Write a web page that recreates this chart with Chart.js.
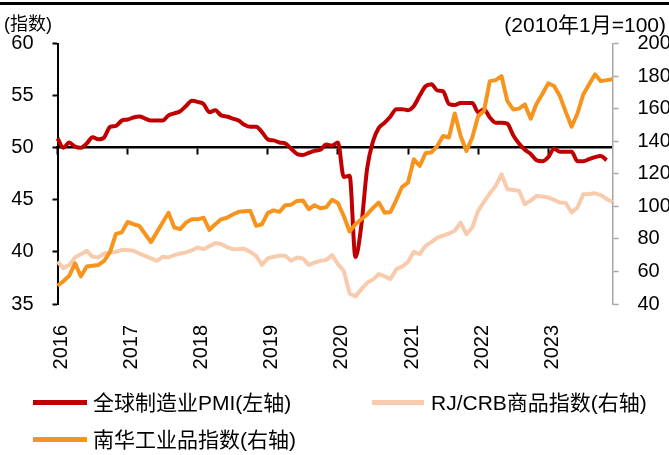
<!DOCTYPE html>
<html><head><meta charset="utf-8">
<script src="https://cdn.jsdelivr.net/npm/chart.js@4"></script>
<style>
html,body{margin:0;padding:0;background:#fff;}
#wrap{position:relative;width:669px;height:455px;overflow:hidden;font-family:"Liberation Sans","Noto Sans CJK SC",sans-serif;color:#000;}
#c{position:absolute;left:0;top:0;}
.t{position:absolute;white-space:nowrap;line-height:1;}
.ln{position:absolute;height:5px;}
</style></head><body>
<div id="wrap">
<canvas id="c" width="669" height="455"></canvas>
<div style="position:absolute;left:0;top:2px;width:669px;height:3px;background:#000"></div>
<div class="t" style="left:4px;top:15px;font-size:18px">(指数)</div>
<div class="t" style="right:3px;top:14px;font-size:21px">(2010年1月=100)</div>
<div class="ln" style="left:33px;top:400px;width:54px;background:#C00000"></div>
<div class="t" style="left:93px;top:392px;font-size:21px">全球制造业PMI(左轴)</div>
<div class="ln" style="left:372px;top:400px;width:52px;background:#F8CBAD"></div>
<div class="t" style="left:431px;top:392px;font-size:21px">RJ/CRB商品指数(右轴)</div>
<div class="ln" style="left:33px;top:437px;width:54px;background:#F7941D"></div>
<div class="t" style="left:93px;top:429px;font-size:21px">南华工业品指数(右轴)</div>
</div>
<script>
const yearLabels = ['2016','2017','2018','2019','2020','2021','2022','2023'];
const monthNums = ['01','02','03','04','05','06','07','08','09','10','11','12'];
const months = [];
yearLabels.forEach(y => monthNums.forEach(m => months.push(y + '-' + m)));

const pmi = [
  50.9, 50.0, 50.5, 50.1, 50.0, 50.4, 51.0, 50.8, 51.0, 52.0, 52.1, 52.6,
  52.7, 52.9, 53.0, 52.8, 52.6, 52.6, 52.6, 53.1, 53.3, 53.5, 54.0, 54.5,
  54.4, 54.2, 53.4, 53.6, 53.1, 53.0, 52.8, 52.6, 52.2, 52.0, 52.0, 51.5,
  50.8, 50.7, 50.5, 50.4, 49.9, 49.4, 49.3, 49.5, 49.7, 49.8, 50.3, 50.2,
  50.5, 47.2, 47.3, 39.5, 42.5, 48.0, 50.6, 51.9, 52.4, 53.0, 53.7, 53.7,
  53.6, 54.0, 55.0, 55.9, 56.1, 55.5, 55.4, 54.2, 54.1, 54.3, 54.3, 54.3,
  53.4, 53.7, 52.9, 52.4, 52.4, 52.3, 51.2, 50.4, 49.8, 49.4, 48.8, 48.7,
  49.1, 49.9, 49.6, 49.6, 49.6, 48.7, 48.7, 48.9, 49.1, 49.2, 48.8
];
const rjcrb = [
  66, 62, 64, 68.5, 70.5, 72.7, 69, 68.6, 71, 71.7, 72, 73.3,
  73.2, 72.7, 71, 69.6, 68, 66.5, 69, 68.6, 70, 71, 71.7, 73,
  74.7, 73.7, 75.5, 77.4, 76.8, 75, 73.7, 73.8, 74, 72, 69.6, 64,
  68, 69, 69.6, 69.6, 66.5, 68.6, 68, 64, 65.5, 66.5, 67, 70,
  64.5, 60.4, 46.5, 44.7, 49, 53, 55, 58.4, 57, 55.3, 61.4, 63,
  66, 72, 70.7, 75.7, 78, 80.8, 82, 83.3, 85, 90, 82.9, 87,
  97.2, 102.7, 108, 112.5, 119.7, 110.5, 110, 109.6, 101.3, 103.5, 106.4, 106,
  105.4, 104, 102.3, 102, 96.2, 99.3, 107.4, 107.6, 108, 106.9, 104.5, 102.7
];
const nanhua = [
  51.2, 54, 57.3, 65, 57, 63, 63.5, 64, 66.5, 72, 83, 84,
  90.4, 89, 88, 83, 78, 84, 90, 96, 87, 86, 90, 92,
  92, 93, 85.5, 89, 92, 93, 95, 96.6, 97, 97.2, 88, 89,
  96, 97.5, 96.6, 100.7, 101, 103.3, 103.6, 98.2, 100.7, 98.8, 99.4, 104,
  102, 94, 84.5, 89, 92, 95, 99, 102.3, 96, 96.5, 104, 112,
  114.6, 128.9, 124.8, 132.6, 133.2, 137, 143.2, 142.3, 157, 143.2, 134, 142.3,
  155.4, 158.5, 176.9, 177.5, 180, 164.6, 159.5, 160, 162.6, 153.8, 163, 169,
  175.5, 173.9, 167.7, 158, 148.9, 157, 168.7, 175, 181, 176.9, 177.5, 178
];
const seriesNames = ['全球制造业PMI(左轴)', 'RJ/CRB商品指数(右轴)', '南华工业品指数(右轴)'];

const FONT = '"Liberation Sans","Noto Sans CJK SC",sans-serif';

new Chart(document.getElementById('c'), {
  type: 'line',
  data: {
    labels: months,
    datasets: [
      { label: seriesNames[0], data: pmi, yAxisID: 'y', borderColor: '#C00000', borderWidth: 4,
        pointRadius: 0, cubicInterpolationMode: 'monotone', borderJoinStyle: 'round', order: 3 },
      { label: seriesNames[1], data: rjcrb, yAxisID: 'y2', borderColor: '#F8CBAD', borderWidth: 4,
        pointRadius: 0, tension: 0, borderJoinStyle: 'round', order: 2 },
      { label: seriesNames[2], data: nanhua, yAxisID: 'y2', borderColor: '#F7941D', borderWidth: 4,
        pointRadius: 0, tension: 0, borderJoinStyle: 'round', order: 1 }
    ]
  },
  options: {
    responsive: false,
    animation: false,
    devicePixelRatio: 1,
    layout: { padding: { left: 0, right: 0, top: 43.5, bottom: 0 } },
    plugins: { legend: { display: false }, tooltip: { enabled: false } },
    scales: {
      x: {
        type: 'category', position: 'bottom',
        grid: { display: false }, border: { display: false },
        ticks: {
          autoSkip: false, minRotation: 90, maxRotation: 90, padding: 13, labelOffset: 4,
          color: '#000', font: { size: 20, family: FONT },
          callback: (v, i) => (i % 12 === 0 ? yearLabels[i / 12] : '')
        },
        afterFit: s => { s.height = 151; }
      },
      x2: {
        type: 'category', axis: 'x', position: { y: 50 },
        grid: {
          drawOnChartArea: false, drawTicks: true, tickLength: 6, tickWidth: 2,
          tickColor: ctx => (ctx.index % 12 === 0 ? '#000' : 'rgba(0,0,0,0)')
        },
        border: { display: true, color: '#000', width: 2.5 },
        ticks: { display: false }
      },
      y: {
        position: 'left', min: 35, max: 60,
        ticks: { stepSize: 5, padding: 19, color: '#000', font: { size: 20, family: FONT } },
        grid: { drawOnChartArea: false, drawTicks: true, tickLength: 5, tickColor: '#000', tickWidth: 2 },
        border: { display: true, color: '#000', width: 2 },
        afterFit: s => { s.width = 57.5; }
      },
      y2: {
        position: 'right', min: 40, max: 200,
        ticks: { stepSize: 20, padding: 19, color: '#000', font: { size: 20, family: FONT } },
        grid: { drawOnChartArea: false, drawTicks: true, tickLength: 6, tickColor: '#A6A6A6', tickWidth: 1.5 },
        border: { display: true, color: '#A6A6A6', width: 1.5 },
        afterFit: s => { s.width = 56.5; }
      }
    }
  }
});
</script>
</body></html>
